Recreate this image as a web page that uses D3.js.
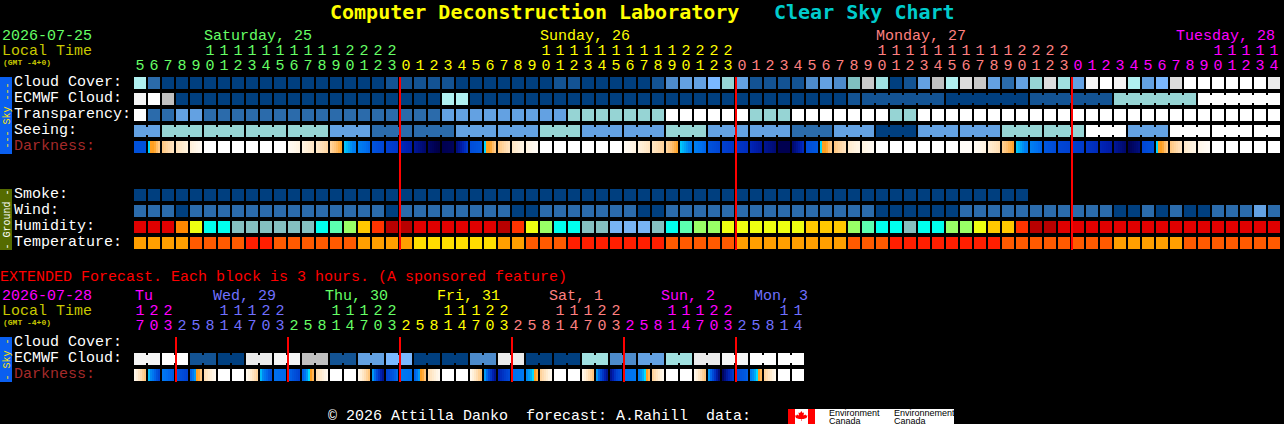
<!DOCTYPE html>
<html><head><meta charset="utf-8">
<script src="https://cdn.jsdelivr.net/npm/d3@7/dist/d3.min.js"></script>
<style>
html,body{margin:0;padding:0;background:#000;overflow:hidden}
svg{display:block}
text{font-family:"Liberation Mono",monospace;font-size:15px}
.title{font-family:"DejaVu Sans Mono",monospace;font-weight:bold;font-size:20px}
.tiny{font-size:8px;font-weight:bold}
.side{font-size:10px}
.logo{font-family:"Liberation Sans",sans-serif;font-size:9px}
</style></head><body>
<script>
// ---------- hours (tick labels) ----------
const hours = [5,6,7,8,9,10,11,12,13,14,15,16,17,18,19,20,21,22,23,
 0,1,2,3,4,5,6,7,8,9,10,11,12,13,14,15,16,17,18,19,20,21,22,23,
 0,1,2,3,4,5,6,7,8,9,10,11,12,13,14,15,16,17,18,19,20,21,22,23,
 0,1,2,3,4,5,6,7,8,9,10,11,12,13,14];
const extHours = [17,20,23,
 2,5,8,11,14,17,20,23, 2,5,8,11,14,17,20,23, 2,5,8,11,14,17,20,23,
 2,5,8,11,14,17,20,23, 2,5,8,11,14,17,20,23, 2,5,8,11,14];
const dayNames = ["Saturday, 25","Sunday, 26","Monday, 27","Tuesday, 28"];
const extDayNames = ["Tu","Wed, 29","Thu, 30","Fri, 31","Sat, 1","Sun, 2","Mon, 3"];
const skyLabels = ["Cloud Cover:","ECMWF Cloud:","Transparency:","Seeing:","Darkness:"];
const groundLabels = ["Smoke:","Wind:","Humidity:","Temperature:"];
const extLabels = ["Cloud Cover:","ECMWF Cloud:","Darkness:"];

// ---------- sky levels (0 = clear/best ... 15 = overcast/too cloudy) ----------
const cloudCover = [9,2,0,0,0,0,0,0,0,0,0,0,0,0,0,0,0,0,1,1,1,1,1,0,0,0,0,0,0,0,1,1,0,0,0,0,0,1,3,4,4,5,7,4,1,1,1,1,3,4,3,6,11,8,0,1,4,10,9,12,11,4,2,4,7,12,8,4,14,15,14,9,4,5,12,15,15,15,15,15,15,13];
const ecmwfBlocks = [14,15,10,0,0,0,0,0,0,0,0,0,0,0,0,0,0,0,0,0,0,0,9,9,0,0,0,0,0,0,0,0,0,0,0,0,0,0,0,0,0,0,0,0,0,0,0,0,0,0,0,1, 1,0,1,7,15];
const ecmwfSizes = [1,1,1,1,1,1,1,1,1,1,1,1,1,1,1,1,1,1,1,1,1,1,1,1,1,1,1,1,1,1,1,1,1,1,1,1,1,1,1,1,1,1,1,1,1,1,1,1,1,1,1,1, 6,6,6,6,6];
const transparency = [15,2,2,4,4,2,2,2,2,2,2,2,2,2,2,2,2,2,2,2,2,2,4,4,4,4,4,4,4,4,4,7,7,7,7,7,7,7,15,15,15,15,15,15,7,7,7,15,15,15,15,15,15,15,7,7,15,15,15,15,15,15,15,15,15,15,15,15,15,15,15,15,15,15,15,15,15,15,15,15,15,15];
const seeingBlocks = [4,7,7,7,7,4,2,2,4,4,7,4,4,7,4,4,2,4,0,4,4,7,7,15,4,15,15,15];
const seeingSizes = [2,3,3,3,3,3,3,3,3,3,3,3,3,3,3,3,3,3,3,3,3,3,3,3,3,3,3,2];
// darkness: sampled values across each hour (higher = darker sky, negative = daylight)
const darkness = [[2.3],[0.5,-0.2,-1.6],[-1.2,-2.4],[-2.2,-3],[-2.8,-3.6],[-4],[-4],[-4],[-4],[-4],[-4],[-3.6,-3],[-3.1,-2.4],[-2.6,-1.7],[-1.8,-0.2],[0.45,1.2],[1,1.8],[2.2,2.8],[3,3.3],[3.7,4.2],[4.5,5.5],
 [5.5,6.3],[6,5.8],[5.2,3],[2.5,2],[0.5,-0.2,-1.6],[-1.2,-2.4],[-2.4,-3.2],[-3,-3.7],[-4],[-4],[-4],[-4],[-4],[-4],[-3.6,-3],[-3,-2.3],[-2.4,-1.6],[-1.8,-0.2],[0.45,1.2],[1,1.8],[2.2,2.8],[3,3.3],[3.3,3.6],[3.8,4.5],[4.6,5.3],[6,6],[5.5,3.5],[2.5,2],[0.5,-0.2,-1.6],[-1.2,-2.4],[-2.6,-3.2],
 [-3,-3.6],[-4],[-4],[-4],[-4],[-4],[-4],[-3.7],[-3.6,-3],[-2.8,-2],[-1.6,-0.2],[0.45,1.2],[1,1.8],[2,2.6],[2.7,3],[3,3.2],[3.3,3.7],[3.8,4.3],[4.5,5.5],[6,5],[2.8,2.2],[0.5,-0.2,-1.6],[-1.2,-2.4],[-2.5,-3.2],[-3.2,-3.7],[-4],[-4],[-4],[-4],[-4]];

// ---------- ground ----------
const smoke = [0,0,0,0,0,0,0,0,0,0,0,0,0,0,0,0,0,0,0,0,0,0,0,0,0,0,0,0,0,0,0,0,0,0,0,0,0,0,0,0,0,0,0,0,0,0,0,0,0,0,0,0,0,0,0,0,0,0,0,0,0,0,0,0];
const wind = [2,2,2,0,2,2,2,2,2,2,2,2,2,2,2,2,2,2,0,2,2,2,2,2,2,2,2,0,0,2,2,2,2,2,2,2,0,0,2,2,2,2,2,2,2,2,2,2,2,2,2,2,2,0,0,0,0,0,0,2,2,2,2,2,2,2,2,2,2,2,0,0,2,0,2,0,0,2,2,2,4,2];
const humidity = [92,92,92,82,72,57,57,52,52,52,52,52,52,57,62,67,77,87,97,97,92,92,92,92,92,92,97,87,72,67,57,57,52,52,47,47,47,52,57,62,67,67,72,72,72,72,72,72,77,77,77,67,62,57,57,52,57,57,67,67,72,77,77,87,97,97,92,92,92,92,92,92,92,92,92,92,92,92,92,92,92,92];
const temperature = [24,24,24,24,27,27,27,27,30,30,27,27,27,27,27,27,24,24,24,24,21,21,21,21,21,21,24,24,27,27,27,30,30,30,30,30,30,30,27,27,27,27,27,24,24,24,24,24,24,24,24,27,27,27,30,30,30,30,30,30,30,30,27,27,27,27,27,27,27,27,24,24,24,24,24,27,27,27,27,27,27,27];

// ---------- extended forecast ----------
const extEcmwf = [14,15,1,0,13,14,10,1,4,5,0,0,3,13,0,0,8,3,4,8,13,14,15,15];
const extEcmwfSizes = [2,2,2,2,2,2,2,2,2,2,2,2,2,2,2,2,2,2,2,2,2,2,2,2];
const extDarkness = [[-3.5,-1],[0.4,1.5,3],[1.2,2],[2,3],[2,0.6,-1.5],[-2,-3.5],[-4],[-4],[-3.5,-1.5],[0.4,1.5,2.5],[1.5,1.7],[1.5,3],[2,0.6,-1],[-2,-3.5],[-4],[-4],[-3.5,-1],[0.4,3,5],[3,1.5],[1.2,1.5],[2,0.6,-1.5],[-2,-3.5],[-4],[-4],[-3.5,-1],[0.4,3,5],[4,2.5],[1.5,1.2],[1,0.6,-0.8],[-1.5,-3.5],[-4],[-4],[-3.5,-1],[0.4,3,5],[5,3,2],[1.5,1.3],[1.2,0.6,-1],[-1.5,-3.5],[-4],[-4],[-3.5,-1],[0.4,3,5.5],[6,4,3],[2.5,1.8],[1.2,0.6,-1],[-1.5,-3.5],[-4],[-4]];

// ---------- colour scales ----------
const skyColor = d3.scaleOrdinal().domain(d3.range(16)).range(["#003f7f","#135393","#2b6bab","#4d8bcb","#63a1e2","#7ab8ff","#80c0c0","#96d4d4","#a0e0e0","#b0f0f0","#c0c0c0","#c8c8c8","#dcdcdc","#ebebeb","#f5f5f5","#ffffff"]);
const humColor = d3.scaleOrdinal().domain([97,92,87,82,77,72,67,62,57,52,47]).range(["#b80000","#e00000","#ff3300","#ff8800","#ffc800","#eeff11","#99ff66","#5cffb0","#00ffee","#84c0c0","#78b4f4"]);
const tempColor = d3.scaleOrdinal().domain([30,27,24,21]).range(["#ff1e00","#ff5a00","#ff9f00","#ffdd00"]);
const darkColor = d3.scaleLinear()
  .domain([-4,-3.5,-3,-2.5,-2,-1,-0.2,0.3,0.32,1,1.5,2,3,4,5,6])
  .range(["#ffffff","#fffaf2","#fff3e0","#ffe8c8","#ffdcb0","#ffc070","#ff9f20","#ff9f20","#00e0ff","#0080f0","#0070f0","#0058e0","#0040d0","#0020b0","#000f80","#000050"]);

const green="#66ff66", yellow="#ffff00", pink="#ff8080", magenta="#ff00ff", peri="#7070ff";
const dayColors=[green,yellow,pink,magenta];
const extDayColors=[magenta,peri,green,yellow,pink,magenta,peri];

// ---------- layout ----------
const W=1284,H=424,colW=14,cell=12,rowStep=16,left=134;
const svg=d3.select("body").append("svg").attr("width",W).attr("height",H).style("background","#000");
const x=d3.scaleBand().domain(d3.range(hours.length)).range([left,left+colW*hours.length-2]).paddingInner(2/colW);
const xe=d3.scaleBand().domain(d3.range(extHours.length)).range([left,left+colW*extHours.length-2]).paddingInner(2/colW);

function dayIndex(hrs){let d=0;return hrs.map((h,i)=>{if(i&&h<hrs[i-1])d++;return d;});}
const hDay=dayIndex(hours), eDay=dayIndex(extHours);

function txt(s,xp,yp,c,cls,anchor){
  return svg.append("text").attr("x",xp).attr("y",yp).attr("fill",c).attr("class",cls||null)
    .attr("text-anchor",anchor||"start").text(s);
}
function hourAxis(scale,hrs,days,cols,yTens,yOnes){
  const mk=(fmt,yy)=>{
    const g=svg.append("g").attr("transform",`translate(0,${yy})`)
      .call(d3.axisTop(scale).tickSize(0).tickPadding(0).tickFormat(fmt));
    g.select(".domain").remove();
    g.selectAll("text").attr("dy",0).attr("y",0).attr("font-family","'Liberation Mono',monospace").attr("font-size",15)
      .attr("fill",i=>cols[days[i]]);
  };
  mk(i=>hrs[i]>=10?Math.floor(hrs[i]/10):"",yTens);
  mk(i=>hrs[i]%10,yOnes);
}
// plain row: one square per value
function squares(scale,vals,top,color){
  svg.append("g").selectAll("rect").data(vals).join("rect")
    .attr("x",(d,i)=>scale(i)).attr("y",top).attr("width",scale.bandwidth()).attr("height",cell)
    .attr("fill",color).attr("shape-rendering","crispEdges");
}
// blocks: several hours sharing one value, joined by narrower bridges
function blocks(scale,vals,sizes,top,color){
  const g=svg.append("g").attr("shape-rendering","crispEdges");
  let c=0;
  vals.forEach((v,b)=>{
    for(let k=0;k<sizes[b];k++,c++){
      g.append("rect").attr("x",scale(c)).attr("y",top).attr("width",scale.bandwidth()).attr("height",cell).attr("fill",color(v));
      if(k<sizes[b]-1) g.append("rect").attr("x",scale(c)+scale.bandwidth()).attr("y",top+2)
        .attr("width",scale.step()-scale.bandwidth()).attr("height",cell-4).attr("fill",color(v));
    }
  });
}
// darkness: each cell painted as narrow strips running through its sampled values
function strips(scale,vals,top){
  const n=6,g=svg.append("g").attr("shape-rendering","crispEdges");
  vals.forEach((stops,i)=>{
    const sw=scale.bandwidth()/n;
    const at=stops.length>1?d3.scaleLinear().domain(d3.range(stops.length).map(k=>k/(stops.length-1))).range(stops):()=>stops[0];
    for(let k=0;k<n;k++){
      g.append("rect").attr("x",scale(i)+k*sw).attr("y",top).attr("width",sw).attr("height",cell)
       .attr("fill",darkColor(at((k+.5)/n)));
    }
  });
}
function labels(list,firstBase,colorFn){
  list.forEach((s,i)=>txt(s,14,firstBase+i*rowStep,colorFn(s)));
}
function sidebar(y0,y1,fill,color,s){
  svg.append("rect").attr("x",0).attr("y",y0).attr("width",12).attr("height",y1-y0).attr("fill",fill);
  svg.append("text").attr("class","side").attr("fill",color).attr("text-anchor","middle")
    .attr("transform",`translate(9.5,${(y0+y1)/2}) rotate(-90)`).text(s);
}
const labelColor=s=>s==="Darkness:"?"#a52a2a":"#ffffff";

// ---------- title ----------
txt("Computer Deconstruction Laboratory",330,18.5,"#ffff00","title");
txt("Clear Sky Chart",774,18.5,"#00cccc","title");

// ---------- main header ----------
txt("2026-07-25",2,40,green);
txt("Local Time",2,55,"#c8c800");
txt("(GMT -4+0)",3,65,"#c8c800","tiny");
txt(dayNames[0],204,40,dayColors[0]);
txt(dayNames[1],540,40,dayColors[1]);
txt(dayNames[2],876,40,dayColors[2]);
txt(dayNames[3],1275,40,dayColors[3],null,"end");
hourAxis(x,hours,hDay,dayColors,55,69.5);

// ---------- sky rows ----------
const skyTop=77;
sidebar(77,154,"#0a5ff0","#ffe600","--- Sky ---");
labels(skyLabels,86,labelColor);
squares(x,cloudCover,skyTop,d=>skyColor(d));
blocks(x,ecmwfBlocks,ecmwfSizes,skyTop+rowStep,skyColor);
squares(x,transparency,skyTop+2*rowStep,d=>skyColor(d));
blocks(x,seeingBlocks,seeingSizes,skyTop+3*rowStep,skyColor);
strips(x,darkness,skyTop+4*rowStep);

// ---------- ground rows ----------
const gTop=189;
sidebar(189,250,"#556b00","#ffffff","- Ground -");
labels(groundLabels,198,labelColor);
squares(x,smoke,gTop,d=>skyColor(d));
squares(x,wind,gTop+rowStep,d=>skyColor(d));
squares(x,humidity,gTop+2*rowStep,d=>humColor(d));
squares(x,temperature,gTop+3*rowStep,d=>tempColor(d));

// ---------- midnight lines ----------
hours.forEach((h,i)=>{ if(h===0) svg.append("rect").attr("x",x(i)-1).attr("y",77).attr("width",2).attr("height",173).attr("fill","#ff0000").attr("shape-rendering","crispEdges"); });

// ---------- extended ----------
txt("EXTENDED Forecast. Each block is 3 hours. (A sponsored feature)",0,281,"#ff0000");
txt("2026-07-28",2,300,magenta);
txt("Local Time",2,315,"#c8c800");
txt("(GMT -4+0)",3,325,"#c8c800","tiny");
txt(extDayNames[0],135,300,extDayColors[0]);
[1,2,3,4,5].forEach(k=>txt(extDayNames[k],213+(k-1)*112,300,extDayColors[k]));
txt(extDayNames[6],808,300,extDayColors[6],null,"end");
hourAxis(xe,extHours,eDay,extDayColors,315,330);

sidebar(337,382,"#0a5ff0","#ffe600","- Sky -");
labels(extLabels,346,labelColor);
blocks(xe,extEcmwf,extEcmwfSizes,353,skyColor);
strips(xe,extDarkness,369);
extHours.forEach((h,i)=>{ if(i&&h<extHours[i-1]) svg.append("rect").attr("x",xe(i)-1).attr("y",337).attr("width",2).attr("height",45).attr("fill","#ff0000").attr("shape-rendering","crispEdges"); });

// ---------- footer ----------
txt("\u00a9 2026 Attilla Danko  forecast: A.Rahill  data:",328,420,"#ffffff").style("white-space","pre");
const logo=svg.append("g");
logo.append("rect").attr("x",788).attr("y",409).attr("width",166).attr("height",15).attr("fill","#fff");
logo.append("rect").attr("x",788).attr("y",409).attr("width",7).attr("height",15).attr("fill","#ff0000");
logo.append("rect").attr("x",808).attr("y",409).attr("width",7).attr("height",15).attr("fill","#ff0000");
logo.append("path").attr("d","M801.5 411 l1 2 1.5-.5 -.5 3 2-1 .5 1 1.5 0 -1 2.5 -3 1 -2 0 v2 h-.5 v-2 l-2 0 -3-1 -1-2.5 1.5 0 .5-1 2 1 -.5-3 1.5 .5z").attr("fill","#ff0000");
[["Environment",829,416],["Canada",829,423.5],["Environnement",894,416],["Canada",894,423.5]].forEach(t=>txt(t[0],t[1],t[2],"#000","logo"));
</script>
</body></html>
